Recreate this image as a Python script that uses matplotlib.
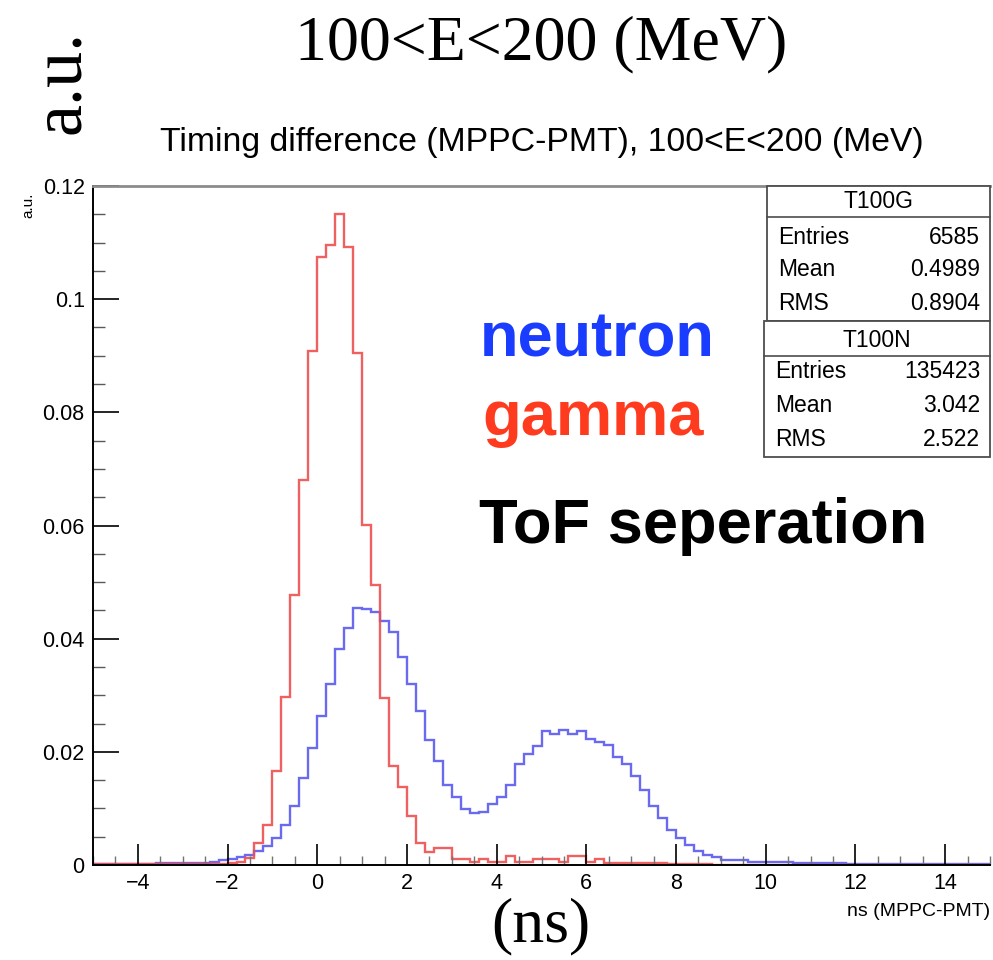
import matplotlib
matplotlib.use("Agg")
import matplotlib.pyplot as plt
from matplotlib.patches import Rectangle
from matplotlib.lines import Line2D
from matplotlib.ticker import MultipleLocator
import numpy as np

# bin edges: 100 bins of 0.2 ns from -5 to 15
x_lo, x_hi, n_bins = -5.0, 15.0, 100

# T100G : gamma, normalised bin contents
gamma = [
    0.0001, 0.0001, 0.0001, 0.0001, 0.0001, 0.0001, 0.0001, 0.0001, 0.0001, 0.0001,
    0.0001, 0.0002, 0.0001, 0.0002, 0.0002, 0.0003, 0.0006, 0.0012, 0.0038, 0.0071,
    0.0166, 0.0297, 0.0477, 0.0681, 0.0909, 0.1075, 0.1096, 0.1150, 0.1092, 0.0905,
    0.0601, 0.0494, 0.0296, 0.0175, 0.0137, 0.0086, 0.0038, 0.0023, 0.0030, 0.0030,
    0.0011, 0.0010, 0.0006, 0.0010, 0.0006, 0.0006, 0.0016, 0.0006, 0.0006, 0.0010,
    0.0010, 0.0010, 0.0006, 0.0016, 0.0016, 0.0006, 0.0010, 0.0003, 0.0003, 0.0004,
    0.0004, 0.0004, 0.0004, 0.0004, 0.0002, 0.0001, 0.0001, 0.0001, 0.0001, 0.0000,
    0.0000, 0.0000, 0.0000, 0.0000, 0.0000, 0.0000, 0.0000, 0.0000, 0.0000, 0.0000,
    0.0000, 0.0000, 0.0000, 0.0000, 0.0000, 0.0000, 0.0000, 0.0000, 0.0000, 0.0000,
    0.0000, 0.0000, 0.0000, 0.0000, 0.0000, 0.0000, 0.0000, 0.0000, 0.0000, 0.0000,
]

# T100N : neutron, normalised bin contents
neutron = [
    0.0002, 0.0002, 0.0002, 0.0002, 0.0002, 0.0002, 0.0002, 0.0003, 0.0003, 0.0003,
    0.0003, 0.0003, 0.0004, 0.0006, 0.0009, 0.0011, 0.0014, 0.0018, 0.0024, 0.0033,
    0.0047, 0.0071, 0.0104, 0.0154, 0.0207, 0.0263, 0.0320, 0.0382, 0.0419, 0.0454,
    0.0453, 0.0448, 0.0432, 0.0412, 0.0368, 0.0320, 0.0273, 0.0221, 0.0184, 0.0141,
    0.0120, 0.0099, 0.0092, 0.0094, 0.0107, 0.0121, 0.0142, 0.0178, 0.0197, 0.0211,
    0.0236, 0.0232, 0.0238, 0.0232, 0.0236, 0.0222, 0.0218, 0.0212, 0.0190, 0.0179,
    0.0157, 0.0133, 0.0104, 0.0083, 0.0061, 0.0047, 0.0036, 0.0024, 0.0018, 0.0015,
    0.0009, 0.0008, 0.0008, 0.0005, 0.0005, 0.0005, 0.0005, 0.0005, 0.0003, 0.0003,
    0.0003, 0.0003, 0.0003, 0.0003, 0.0002, 0.0002, 0.0002, 0.0002, 0.0002, 0.0002,
    0.0002, 0.0002, 0.0002, 0.0002, 0.0002, 0.0002, 0.0002, 0.0002, 0.0002, 0.0002,
]

x_ticks = [-4, -2, 0, 2, 4, 6, 8, 10, 12, 14]
y_ticks = [0, 0.02, 0.04, 0.06, 0.08, 0.1, 0.12]
y_tick_labels = ["0", "0.02", "0.04", "0.06", "0.08", "0.1", "0.12"]

stats_g = [("Entries", "6585"), ("Mean", "0.4989"), ("RMS", "0.8904")]
stats_n = [("Entries", "135423"), ("Mean", "3.042"), ("RMS", "2.522")]

SANS = ["Liberation Sans", "DejaVu Sans"]
SERIF = ["Liberation Serif", "DejaVu Serif"]
W, H = 993, 960

fig = plt.figure(figsize=(W / 100, H / 100), dpi=100)
fig.patch.set_facecolor("white")

def fx(px):
    return px / W

def fy(py):
    return 1 - py / H

ax = fig.add_axes([fx(93), fy(865), fx(990) - fx(93), fy(186) - fy(865)])

edges = np.linspace(x_lo, x_hi, n_bins + 1)
ax.stairs(neutron, edges, color="#5a5af0", lw=1.7, alpha=0.9, baseline=0)
ax.stairs(gamma, edges, color="#ee4f4f", lw=1.7, alpha=0.9, baseline=0)

ax.set_xlim(x_lo, x_hi)
ax.set_ylim(0, 0.12)
ax.set_xticks(x_ticks)
ax.set_xticklabels([str(t) if t >= 0 else "\u2212" + str(-t) for t in x_ticks],
                   family=SANS, fontsize=15.5)
ax.set_yticks(y_ticks)
ax.set_yticklabels(y_tick_labels, family=SANS, fontsize=15.5)
ax.xaxis.set_minor_locator(MultipleLocator(0.5))
ax.yaxis.set_minor_locator(MultipleLocator(0.005))
ax.tick_params(axis="x", which="major", direction="in", length=15, width=1.2, pad=6)
ax.tick_params(axis="x", which="minor", direction="in", length=6.5, width=1.0, color="0.45")
ax.tick_params(axis="y", which="major", direction="in", length=18.5, width=1.2, pad=6)
ax.tick_params(axis="y", which="minor", direction="in", length=8.5, width=1.0, color="0.35")

for side in ("left", "bottom"):
    ax.spines[side].set_color("black")
    ax.spines[side].set_linewidth(1.4)
ax.spines["top"].set_color("0.55")
ax.spines["top"].set_linewidth(2.0)
ax.spines["right"].set_visible(False)

# axis captions
fig.text(fx(990), fy(912), "ns (MPPC-PMT)", family=SANS, fontsize=14,
         ha="right", va="center")
fig.text(fx(28), fy(205), "a.u.", family=SANS, fontsize=11, rotation=90,
         ha="center", va="center")

# titles
fig.text(fx(541), fy(44), "100<E<200 (MeV)", family=SERIF, fontsize=46,
         ha="center", va="center")
fig.text(fx(542), fy(142), "Timing difference (MPPC-PMT), 100<E<200 (MeV)",
         family=SANS, fontsize=24.3, ha="center", va="center")
fig.text(fx(62), fy(82), "a.u.", family=SERIF, fontsize=52, rotation=90,
         ha="center", va="center")
fig.text(fx(541), fy(926), "(ns)", family=SERIF, fontsize=46,
         ha="center", va="center")

# annotations
fig.text(fx(480), fy(340), "neutron", family=SANS, fontsize=45.5, weight="bold",
         color="#1a3cff", ha="left", va="center")
fig.text(fx(482), fy(418), "gamma", family=SANS, fontsize=45.5, weight="bold",
         color="#ff3b1f", ha="left", va="center")
fig.text(fx(479), fy(527), "ToF seperation", family=SANS, fontsize=45.5,
         weight="bold", color="black", ha="left", va="center")

# stats boxes
def stats_box(left, top, title_line, bottom, title, rows, title_y, row_ys):
    r = Rectangle((fx(left), fy(bottom)), fx(990) - fx(left), fy(top) - fy(bottom),
                  transform=fig.transFigure, facecolor="white", edgecolor="0.3",
                  lw=1.3, zorder=5)
    fig.add_artist(r)
    fig.add_artist(Line2D([fx(left), fx(990)], [fy(title_line), fy(title_line)],
                          transform=fig.transFigure, color="0.3", lw=1.2, zorder=6))
    fig.text((fx(left) + fx(990)) / 2, fy(title_y), title, family=SANS,
             fontsize=16.5, ha="center", va="center", zorder=7)
    for (name, val), yy in zip(rows, row_ys):
        fig.text(fx(left + 11), fy(yy), name, family=SANS, fontsize=16.5,
                 ha="left", va="center", zorder=7)
        fig.text(fx(980), fy(yy), val, family=SANS, fontsize=16.5,
                 ha="right", va="center", zorder=7)

stats_box(767, 186, 217, 321, "T100G", stats_g, 201, [237, 270, 303])
stats_box(764, 321, 356, 457, "T100N", stats_n, 340, [371, 406, 439])

fig.savefig("out.png", dpi=100)
